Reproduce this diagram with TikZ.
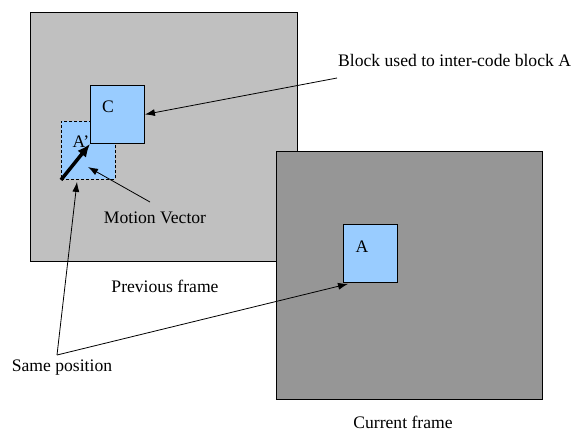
\documentclass[tikz,border=0pt]{standalone}
\usepackage{fontspec}
\setmainfont{Liberation Serif}
\usetikzlibrary{arrows.meta,calc}
\definecolor{prevgray}{RGB}{192,192,192}
\definecolor{curgray}{RGB}{150,150,150}
\definecolor{blockblue}{RGB}{153,204,255}
\begin{document}
\begin{tikzpicture}[x=1pt,y=-1pt,
  frame/.style={draw=black,line width=1pt,inner sep=0pt,anchor=north west},
  blk/.style={draw=black,line width=0.9pt,fill=blockblue,inner sep=0pt,anchor=north west,
    minimum width=54pt,minimum height=58pt},
  ghost/.style={blk,dashed,dash pattern=on 3pt off 2pt},
  lbl/.style={font=\fontsize{17.6}{20}\selectfont,inner sep=0pt},
  pointer/.style={draw=black,line width=0.8pt,-{Latex[length=10pt,width=7pt]}},
  vector/.style={draw=black,line width=3.5pt,-{Latex[length=13pt,width=11pt]}}]
\useasboundingbox (0,0) rectangle (575,432);
% frames
\node[frame,fill=prevgray,minimum width=267pt,minimum height=249pt] (prev) at (30,12) {};
\node[frame,fill=curgray,minimum width=266pt,minimum height=248pt] (cur) at (276,151) {};
% blocks
\node[ghost] (Ad) at (61,121) {};
\node[lbl] (Adlbl) at (81,142) {A’};
\node[blk] (C) at (90,85) {};
\node[lbl] (Clbl) at (108,107) {C};
\node[blk] (A) at (343,224) {};
\node[lbl] (Albl) at (362,247) {A};
% texts
\node[lbl,anchor=west] (use) at (338,60) {Block used to inter-code block A};
\node[lbl] (mv) at (155,218) {Motion Vector};
\node[lbl] (prevlbl) at (165,286) {Previous frame};
\node[lbl] (curlbl) at (403,422) {Current frame};
\node[lbl] (same) at (62,368) {Same position};
% connector ends
\coordinate (usefrom) at (337,78);
\coordinate (mvfrom) at (150,202);
\coordinate (mvto) at (88,167);
\coordinate (apex) at (57,355);
% motion vector
\draw[vector] (Ad.south west) -- (C.south west);
% pointers
\draw[pointer] (usefrom) -- (C.east);
\draw[pointer] (mvfrom) -- (mvto);
\draw[pointer] (apex) -- ($(Ad.south west)+(16,2)$);
\draw[pointer] (apex) -- ($(A.south west)+(5,1)$);
\end{tikzpicture}
\end{document}
